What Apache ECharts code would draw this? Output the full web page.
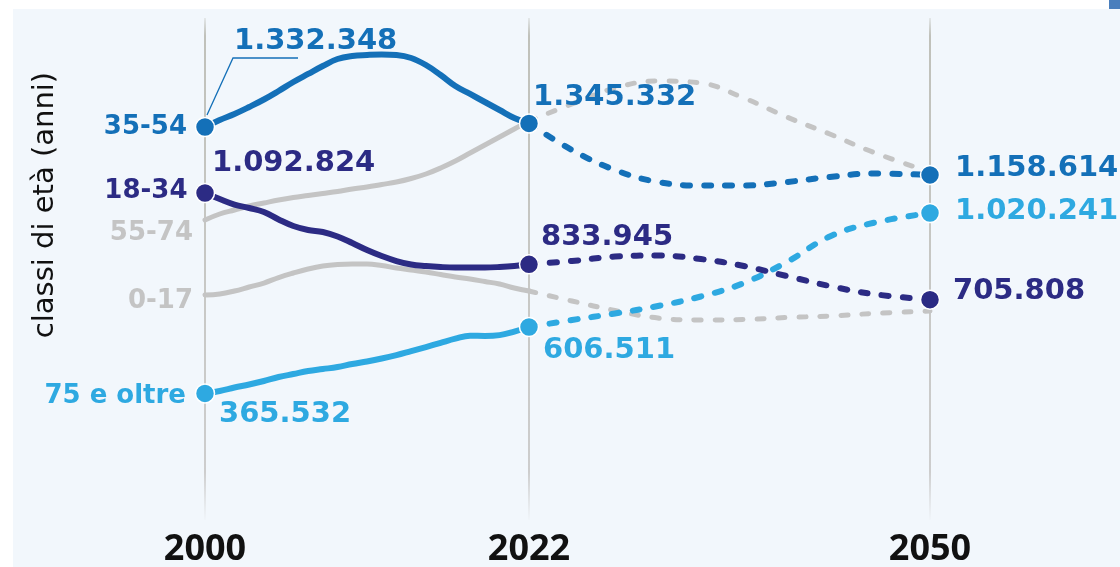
<!DOCTYPE html>
<html>
<head>
<meta charset="utf-8">
<script src="https://cdn.jsdelivr.net/npm/echarts@6/dist/echarts.min.js"></script>
<style>
  html, body { margin: 0; padding: 0; background: #ffffff; }
  #chart { width: 1120px; height: 567px; }
</style>
</head>
<body>
<div id="chart"></div>
<script>
// Residents by age class: observed 2000-2022, projected 2022-2050
const yearsHist = [2000, 2001, 2002, 2003, 2004, 2005, 2006, 2007, 2008, 2009, 2010, 2011,
                   2012, 2013, 2014, 2015, 2016, 2017, 2018, 2019, 2020, 2021, 2022];
const yearsProj = [2022, 2025, 2028, 2031, 2034, 2037, 2040, 2043, 2046, 2050];
const markYears = [2000, 2022, 2050];

const hist0_17  = [722500, 726200, 737100, 751600, 766100, 786100, 802400, 816900, 827800, 833300, 835100, 835100,
                   829600, 820600, 813300, 806000, 797000, 787900, 780600, 771600, 762500, 748000, 737100];
const hist18_34 = [1092824, 1071000, 1051000, 1038400, 1023800, 996600, 973000, 958500, 951200, 934900, 911300, 885900,
                   864100, 846000, 833300, 827800, 824200, 822400, 822400, 822400, 824200, 827800, 833945];
const hist35_54 = [1332348, 1357800, 1379600, 1405000, 1432200, 1463100, 1495700, 1524800, 1553800, 1579200, 1590100, 1593700,
                   1595600, 1593700, 1582900, 1557400, 1521100, 1481200, 1452200, 1423100, 1394100, 1365100, 1345332];
const hist55_74 = [994800, 1016600, 1031100, 1045600, 1056500, 1067400, 1076500, 1083700, 1091000, 1098300, 1107300, 1114600,
                   1123700, 1132700, 1145400, 1161800, 1183600, 1209000, 1238000, 1267000, 1296100, 1325100, 1354200];
const hist75    = [365532, 374100, 386800, 397700, 410400, 424900, 435800, 446700, 453900, 461200, 472100, 481200,
                   492000, 504700, 519300, 533800, 549000, 564000, 575000, 574000, 577000, 590000, 606511];

const proj0_17  = [737100, 700800, 666300, 639100, 631800, 633600, 640900, 646300, 655400, 664500];
const proj18_34 = [833945, 846000, 862300, 865900, 853200, 827800, 791500, 755200, 726200, 705808];
const proj35_54 = [1345332, 1248900, 1176300, 1132700, 1120000, 1120000, 1132700, 1150900, 1163600, 1158614];
const proj55_74 = [1354200, 1415900, 1474000, 1499400, 1492100, 1437700, 1368700, 1307000, 1241600, 1169000];
const proj75    = [606511, 631800, 655400, 682600, 717100, 766100, 842300, 935000, 984000, 1020241];

const yTitle = 'classi di età (anni)';

// drawing order: grey classes underneath
const groups = [
  { name: '0-17',       hist: hist0_17,  proj: proj0_17,  color: '#c4c4c4', dots: false },
  { name: '55-74',      hist: hist55_74, proj: proj55_74, color: '#c4c4c4', dots: false },
  { name: '75 e oltre', hist: hist75,    proj: proj75,    color: '#2ea9e1', dots: true },
  { name: '18-34',      hist: hist18_34, proj: proj18_34, color: '#2c2b84', dots: true },
  { name: '35-54',      hist: hist35_54, proj: proj35_54, color: '#1470b8', dots: true }
];

// label placement (pixel offsets from the point)
const nameOffsets = {
  '0-17': [-12, 6], '55-74': [-12, 13.5], '75 e oltre': [-19, 2.5], '18-34': [-17.5, -2], '35-54': [-18, 0]
};
const valueOffsets = {
  '35-54':      { 2000: [29, -86], 2022: [4, -25.5], 2050: [25, -6.5] },
  '18-34':      { 2000: [7, -30],  2022: [12, -27],  2050: [23, -8] },
  '75 e oltre': { 2000: [14, 21.5], 2022: [14, 23],  2050: [25, -1.5] }
};

const fmt = v => String(Math.round(v)).replace(/\B(?=(\d{3})+(?!\d))/g, '.');
const VALUE_FONT = 'DejaVu Sans';

const vGrad = new echarts.graphic.LinearGradient(0, 0, 0, 1, [
  { offset: 0, color: 'rgba(185,186,178,0.15)' },
  { offset: 0.04, color: '#c0c1ba' },
  { offset: 0.9, color: '#cdcdcd' },
  { offset: 1, color: 'rgba(210,210,210,0)' }
]);

const markLineBase = {
  silent: true,
  symbol: ['none', 'none'],
  z: 1,
  lineStyle: { color: vGrad, width: 2, type: 'solid' },
  label: {
    show: true, position: 'start', distance: 12,
    formatter: p => String(p.value),
    fontFamily: 'Open Sans', fontWeight: 'bold', fontSize: 36, color: '#111111'
  },
  emphasis: { disabled: true }
};

const series = [];
groups.forEach((g, i) => {
  const width = g.dots ? 6 : 5;
  series.push({
    type: 'line', name: g.name, xAxisIndex: 0, yAxisIndex: 0,
    data: yearsHist.map((y, k) => [y, g.hist[k]]),
    symbol: 'none', showSymbol: false, smooth: 0.4, clip: false, silent: true,
    lineStyle: { color: g.color, width: width, cap: 'round', join: 'round', opacity: 1 },
    z: 2 + i,
    markLine: i === 0 ? Object.assign({}, markLineBase, {
      data: markYears.filter(y => y <= 2022).map(y => ({ xAxis: y }))
    }) : undefined
  });
  series.push({
    type: 'line', name: g.name + ' proiezione', xAxisIndex: 1, yAxisIndex: 1,
    data: yearsProj.map((y, k) => [y, g.proj[k]]),
    symbol: 'none', showSymbol: false, smooth: 0.4, clip: false, silent: true,
    lineStyle: { color: g.color, width: width, type: [7, 14], cap: 'round', join: 'round', opacity: 1 },
    z: 2 + i,
    markLine: i === 0 ? Object.assign({}, markLineBase, {
      data: markYears.filter(y => y > 2022).map(y => ({ xAxis: y }))
    }) : undefined
  });
});

// class names at the start of each line
series.push({
  type: 'scatter', xAxisIndex: 0, yAxisIndex: 0, silent: true, z: 20,
  symbolSize: 1, itemStyle: { color: 'transparent', opacity: 1 },
  data: groups.map(g => ({
    value: [2000, g.hist[0]],
    label: {
      show: true, position: 'inside', align: 'right', verticalAlign: 'middle',
      offset: nameOffsets[g.name], formatter: g.name, color: g.color, opacity: 1,
      fontFamily: VALUE_FONT, fontWeight: 'bold', fontSize: 26
    }
  }))
});

function dotItem(g, year, value) {
  return {
    value: [year, value],
    itemStyle: { color: g.color, borderColor: '#ffffff', borderWidth: 1.5, opacity: 1 },
    label: {
      show: true, position: 'inside', align: 'left', verticalAlign: 'middle',
      offset: valueOffsets[g.name][year], formatter: fmt(value), color: g.color, opacity: 1,
      fontFamily: VALUE_FONT, fontWeight: 'bold', fontSize: 29
    }
  };
}
const dotGroups = groups.filter(g => g.dots);
series.push({
  type: 'scatter', xAxisIndex: 0, yAxisIndex: 0, silent: true, z: 30, symbolSize: 19,
  itemStyle: { opacity: 1 },
  data: dotGroups.flatMap(g => [dotItem(g, 2000, g.hist[0]), dotItem(g, 2022, g.hist[g.hist.length - 1])])
});
series.push({
  type: 'scatter', xAxisIndex: 1, yAxisIndex: 1, silent: true, z: 30, symbolSize: 19,
  itemStyle: { opacity: 1 },
  data: dotGroups.map(g => dotItem(g, 2050, g.proj[g.proj.length - 1]))
});

const yMin = -94000, yMax = 1728000;
const hiddenY = { type: 'value', min: yMin, max: yMax, show: false };
const hiddenX = (a, b) => ({ type: 'value', min: a, max: b, show: false });

const chart = echarts.init(document.getElementById('chart'), null, { renderer: 'canvas' });
chart.setOption({
  animation: false,
  backgroundColor: '#ffffff',
  grid: [
    { left: 205, width: 324, top: 18, bottom: 47 },
    { left: 529, width: 401, top: 18, bottom: 47 }
  ],
  xAxis: [hiddenX(2000, 2022), Object.assign(hiddenX(2022, 2050), { gridIndex: 1 })],
  yAxis: [hiddenY, Object.assign({}, hiddenY, { gridIndex: 1 })],
  graphic: { elements: [
    { id: 'bg', type: 'rect', z: -10, silent: true,
      shape: { x: 13, y: 9, width: 1107, height: 558 }, style: { fill: '#f2f7fc' } },
    { id: 'corner', type: 'rect', z: -9, silent: true,
      shape: { x: 1109, y: 0, width: 11, height: 9 }, style: { fill: '#4a7fbd' } },
    { id: 'ytitle', type: 'text', x: 45, y: 205, rotation: Math.PI / 2, silent: true, z: 10,
      style: { text: yTitle, fontFamily: 'DejaVu Sans', fontSize: 29, fill: '#111111',
               align: 'center', verticalAlign: 'middle' } }
  ] },
  series: series
});

// leader from the first 35-54 point to its value label
const p = chart.convertToPixel({ xAxisIndex: 0, yAxisIndex: 0 }, [2000, hist35_54[0]]);
chart.setOption({
  graphic: { elements: [
    { id: 'leader', type: 'polyline', z: 25, silent: true,
      shape: { points: [[p[0] + 2, p[1] - 12], [p[0] + 28, p[1] - 69], [p[0] + 93, p[1] - 69]] },
      style: { stroke: '#1470b8', lineWidth: 1.3, fill: null } }
  ] }
});
</script>
</body>
</html>
